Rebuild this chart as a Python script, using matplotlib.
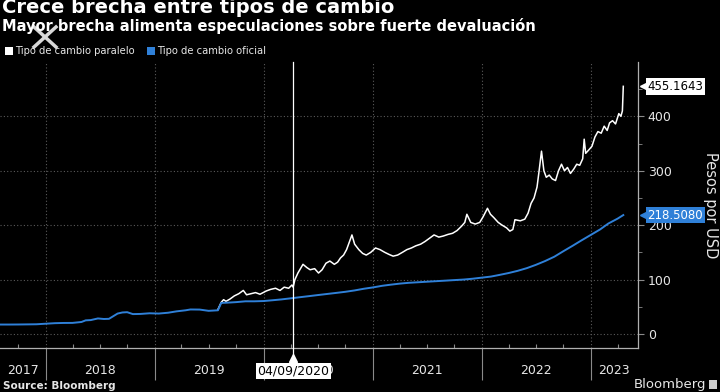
import matplotlib
matplotlib.use("Agg")
import matplotlib.pyplot as plt
import matplotlib.dates as mdates
import matplotlib.transforms as mtransforms
from matplotlib.patches import Rectangle
from matplotlib.lines import Line2D
import pandas as pd

# ---------------- données
paralelo_dates = [
    '2019-08-01', '2019-08-12', '2019-08-20', '2019-08-28', '2019-09-10', '2019-09-25',
    '2019-10-10', '2019-10-25', '2019-11-05', '2019-11-20', '2019-12-05', '2019-12-20',
    '2020-01-10', '2020-01-25', '2020-02-10', '2020-02-25', '2020-03-10', '2020-03-25',
    '2020-04-05', '2020-04-09', '2020-04-15', '2020-04-25', '2020-05-12', '2020-05-25',
    '2020-06-05', '2020-06-20', '2020-07-03', '2020-07-15', '2020-07-28', '2020-08-10',
    '2020-08-25', '2020-09-05', '2020-09-15', '2020-09-25', '2020-10-05', '2020-10-15',
    '2020-10-23', '2020-11-01', '2020-11-15', '2020-11-28', '2020-12-10', '2020-12-25',
    '2021-01-10', '2021-01-25', '2021-02-10', '2021-02-25', '2021-03-10', '2021-03-25',
    '2021-04-10', '2021-04-25', '2021-05-10', '2021-05-25', '2021-06-10', '2021-06-25',
    '2021-07-10', '2021-07-25', '2021-08-10', '2021-08-25', '2021-09-10', '2021-09-25',
    '2021-10-10', '2021-10-25', '2021-11-05', '2021-11-12', '2021-11-25', '2021-12-10',
    '2021-12-25', '2022-01-05', '2022-01-20', '2022-01-30', '2022-02-10', '2022-02-25',
    '2022-03-10', '2022-03-25', '2022-04-05', '2022-04-15', '2022-04-22', '2022-05-10',
    '2022-05-25', '2022-06-05', '2022-06-15', '2022-06-25', '2022-07-05', '2022-07-12',
    '2022-07-20', '2022-07-28', '2022-08-05', '2022-08-15', '2022-08-25', '2022-09-05',
    '2022-09-15', '2022-09-25', '2022-10-05', '2022-10-15', '2022-10-25', '2022-11-05',
    '2022-11-15', '2022-11-25', '2022-12-05', '2022-12-10', '2022-12-15', '2022-12-25',
    '2023-01-05', '2023-01-15', '2023-01-25', '2023-02-05', '2023-02-15', '2023-02-25',
    '2023-03-05', '2023-03-15', '2023-03-25', '2023-04-05', '2023-04-12', '2023-04-17',
    '2023-04-20']
paralelo = [
    45, 58, 63, 60, 64, 70,
    74, 80, 72, 74, 76, 73,
    79, 82, 84, 80, 86, 84,
    90, 86, 100, 112, 128, 122,
    118, 120, 112, 118, 130, 134,
    128, 132, 140, 145, 155, 170,
    182, 165, 155, 148, 145, 150,
    158, 155, 150, 146, 143, 145,
    150, 155, 158, 162, 165, 170,
    176, 182, 178, 180, 183, 185,
    190, 198, 205, 220, 205, 202,
    205, 215, 231, 220, 214, 205,
    200, 195, 189, 192, 210, 208,
    211, 222, 240, 250, 270, 300,
    336, 300, 288, 292, 285, 282,
    300, 312, 300, 306, 295, 303,
    312, 310, 322, 358, 332, 338,
    345, 362, 372, 369, 382, 374,
    388, 392, 386, 405, 400, 410,
    455.1643]

oficial_dates = [
    '2017-08-01', '2017-09-01', '2017-10-01', '2017-11-01', '2017-12-01', '2018-01-01',
    '2018-02-01', '2018-03-01', '2018-04-01', '2018-05-01', '2018-05-15', '2018-06-01',
    '2018-06-25', '2018-07-15', '2018-08-01', '2018-08-30', '2018-09-15', '2018-10-01',
    '2018-10-20', '2018-11-15', '2018-12-15', '2019-01-15', '2019-02-15', '2019-03-15',
    '2019-04-15', '2019-05-01', '2019-06-01', '2019-07-01', '2019-08-01', '2019-08-12',
    '2019-09-01', '2019-10-01', '2019-11-01', '2019-12-01', '2020-01-01', '2020-02-01',
    '2020-03-01', '2020-04-01', '2020-05-01', '2020-06-01', '2020-07-01', '2020-08-01',
    '2020-09-01', '2020-10-01', '2020-11-01', '2020-12-01', '2021-01-01', '2021-02-01',
    '2021-03-01', '2021-04-01', '2021-05-01', '2021-06-01', '2021-07-01', '2021-08-01',
    '2021-09-01', '2021-10-01', '2021-11-01', '2021-12-01', '2022-01-01', '2022-02-01',
    '2022-03-01', '2022-04-01', '2022-05-01', '2022-06-01', '2022-07-01', '2022-08-01',
    '2022-09-01', '2022-10-01', '2022-11-01', '2022-12-01', '2023-01-01', '2023-02-01',
    '2023-03-01', '2023-04-01', '2023-04-20']
oficial = [
    17.3, 17.3, 17.4, 17.6, 17.8, 18.8,
    19.8, 20.2, 20.3, 22.0, 25.0, 25.5,
    28.5, 27.5, 27.8, 37.5, 39.5, 40.0,
    36.5, 36.8, 38.0, 37.5, 39.0, 41.5,
    43.5, 45.0, 44.8, 42.5, 43.5, 57.0,
    57.5, 58.5, 60.0, 60.0, 60.5, 62.0,
    63.5, 65.5, 67.5, 69.5, 71.5, 73.5,
    75.5, 77.5, 80.0, 83.0, 85.5, 88.5,
    90.5, 92.5, 94.0, 95.0, 96.0, 97.0,
    98.0, 99.0, 100.0, 101.5, 103.5, 105.5,
    108.5, 112.0, 116.0, 121.0, 127.0, 134.0,
    142.0, 152.0, 162.0, 172.0, 182.0, 192.0,
    203.0, 212.0, 218.508]

annees = ['2017', '2018', '2019', '2020', '2021', '2022', '2023']
pos_annees = ['2017-10-18', '2018-07-02', '2019-07-02', '2020-07-02',
              '2021-07-02', '2022-07-02', '2023-03-18']
date_ligne = '2020-04-09'
label_ligne = '04/09/2020'

blanc = 'white'
bleu = '#2f80d8'
gris = '#8a8a8a'

# ---------------- figure
fig = plt.figure(figsize=(7.2, 3.92), dpi=100, facecolor='black')
ax = fig.add_axes([0.0, 0.112, 0.886, 0.730], facecolor='black')

ax.plot(pd.to_datetime(paralelo_dates), paralelo, color=blanc, lw=1.1, zorder=3)
ax.plot(pd.to_datetime(oficial_dates), oficial, color=bleu, lw=1.4, zorder=4)

ax.set_xlim(pd.Timestamp('2017-08-01'), pd.Timestamp('2023-06-08'))
ax.set_ylim(-26, 500)

# axe y à droite
ax.yaxis.tick_right()
ax.set_yticks([0, 100, 200, 300, 400])
ax.set_yticks([50, 150, 250, 350, 450], minor=True)
ax.tick_params(axis='y', which='major', colors=gris, labelcolor='#e6e6e6',
               labelsize=9, length=4, pad=3)
ax.tick_params(axis='y', which='minor', colors=gris, length=3)

# axe x : années
ax.xaxis.set_major_locator(mdates.YearLocator())
ax.xaxis.set_minor_locator(mdates.MonthLocator(bymonth=[4, 7, 10]))
ax.tick_params(axis='x', which='major', direction='out', length=23,
               color=gris, width=0.8, labelbottom=False)
ax.tick_params(axis='x', which='minor', direction='in', length=3,
               color=gris, width=0.8)

for s in ['left', 'top']:
    ax.spines[s].set_visible(False)
for s in ['right', 'bottom']:
    ax.spines[s].set_color('#b0b0b0')
    ax.spines[s].set_linewidth(0.9)

ax.grid(which='major', axis='both', color='#5a5a5a', ls=(0, (1, 2)), lw=0.8)

trans = mtransforms.blended_transform_factory(ax.transData, ax.transAxes)
for a, d in zip(annees, pos_annees):
    ax.text(pd.Timestamp(d), -0.08, a, transform=trans, ha='center', va='center',
            color='#e6e6e6', fontsize=9)

# ligne verticale du 04/09/2020
xl = pd.Timestamp(date_ligne)
ax.plot([xl, xl], [-0.03, 1], transform=trans, color=blanc, lw=0.9,
        clip_on=False, zorder=5)
ax.plot([xl], [-0.035], transform=trans, marker='^', ms=6, color=blanc,
        clip_on=False, zorder=5)
ax.text(xl, -0.08, label_ligne, transform=trans, ha='center', va='center',
        color='black', fontsize=9, zorder=6,
        bbox=dict(boxstyle='square,pad=0.12', fc=blanc, ec='none'))

# étiquettes de dernière valeur
trans_y = mtransforms.blended_transform_factory(ax.transAxes, ax.transData)
for v, fc, tc in [(paralelo[-1], blanc, 'black'), (oficial[-1], bleu, blanc)]:
    ax.plot([1.010], [v], transform=trans_y, marker='<', ms=6, color=fc,
            clip_on=False, zorder=6)
    ax.text(1.015, v, '%.4f' % v, transform=trans_y, ha='left', va='center',
            color=tc, fontsize=8.5, zorder=7,
            bbox=dict(boxstyle='square,pad=0.15', fc=fc, ec='none'))

fig.text(0.987, 0.477, 'Pesos por USD', rotation=270, ha='center', va='center',
         color='#e6e6e6', fontsize=10.5)

# titres
fig.text(0.003, 1 - 13 / 392, 'Crece brecha entre tipos de cambio', color=blanc,
         fontsize=14, weight='bold', va='baseline')
fig.text(0.003, 1 - 31 / 392,
         'Mayor brecha alimenta especulaciones sobre fuerte devaluación',
         color=blanc, fontsize=10.5, weight='bold', va='baseline')

# légende
fig.add_artist(Rectangle((5 / 720, 1 - 55 / 392), 8 / 720, 8 / 392,
                         transform=fig.transFigure, fc=blanc, ec='none'))
fig.text(15 / 720, 1 - 51 / 392, 'Tipo de cambio paralelo', color='#e6e6e6',
         fontsize=7.2, va='center')
fig.add_artist(Rectangle((147 / 720, 1 - 55 / 392), 8 / 720, 8 / 392,
                         transform=fig.transFigure, fc=bleu, ec='none'))
fig.text(157 / 720, 1 - 51 / 392, 'Tipo de cambio oficial', color='#e6e6e6',
         fontsize=7.2, va='center')

# croix
for (x0, y0, x1, y1) in [(34, 27, 56, 47), (56, 27, 34, 47)]:
    fig.add_artist(Line2D([x0 / 720, x1 / 720], [1 - y0 / 392, 1 - y1 / 392],
                          transform=fig.transFigure, color='#d8d8d8', lw=2.5))

# pied
fig.text(0.004, 0.003, 'Source: Bloomberg', color='#e6e6e6', fontsize=7.5,
         weight='bold', va='bottom')
fig.text(706 / 720, 0.003, 'Bloomberg', color='#e6e6e6', fontsize=9.5,
         ha='right', va='bottom')
fig.add_artist(Rectangle((709 / 720, 3 / 392), 8 / 720, 9 / 392,
                         transform=fig.transFigure, fc='#cfcfcf', ec='none'))

fig.savefig('out.png', dpi=100, facecolor='black')
